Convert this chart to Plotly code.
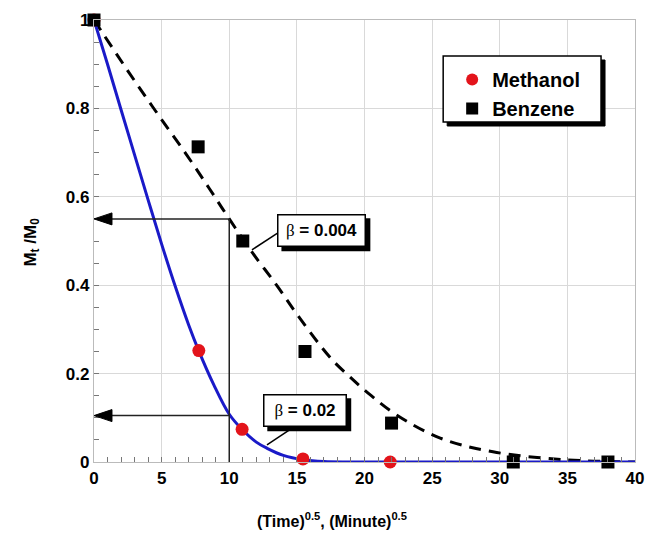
import plotly.graph_objects as go

# ---------------- data ----------------
methanol_x = [0.0, 7.75, 10.95, 15.45, 21.9]
methanol_y = [1.0, 0.252, 0.074, 0.007, 0.0]

benzene_x = [0.0, 7.7, 11.0, 15.6, 22.0, 31.0, 38.0]
benzene_y = [1.0, 0.713, 0.50, 0.25, 0.088, 0.0, 0.0]

fit_b002_x = [0.0, 1.0, 2.0, 3.0, 4.0, 5.0, 6.0, 7.0, 7.74, 8.85, 10.0, 10.94, 12.0, 12.8, 14.0, 15.5, 17.0, 19.0, 40.0]
fit_b002_y = [1.0, 0.9, 0.797, 0.695, 0.593, 0.493, 0.398, 0.31, 0.252, 0.175, 0.108, 0.074, 0.045, 0.031, 0.015, 0.005, 0.001, 0.0, 0.0]

fit_b0004_x = [0.0, 2.5, 4.67, 6.76, 8.5, 10.0, 11.56, 13.5, 15.2, 17.5, 18.94, 20.5, 22.4, 25.6, 29.5, 34.9, 40.0]
fit_b0004_y = [1.0, 0.885, 0.789, 0.699, 0.62, 0.55, 0.48, 0.40, 0.326, 0.235, 0.192, 0.15, 0.106, 0.054, 0.023, 0.005, 0.0]

arrow_levels = [0.55, 0.105]   # read-off levels on the y axis
arrow_from_x = 10.0            # time used for the read-off

x_ticks = [0, 5, 10, 15, 20, 25, 30, 35, 40]
y_ticks = [0, 0.2, 0.4, 0.6, 0.8, 1.0]
y_tick_text = ["0", "0.2", "0.4", "0.6", "0.8", "1"]

# ---------------- layout geometry (pixels) ----------------
W, H = 646, 534
L, R, T, B = 93.5, 635.0, 20.0, 462.0
X0, X1, Y0, Y1 = 0.0, 40.0, 0.0, 1.0
FONT = "Liberation Sans"


def px_to_paper_x(px):
    return (px - L) / (R - L)


def px_to_paper_y(py):
    return (B - py) / (B - T)


def dx_px(n):
    return n * (X1 - X0) / (R - L)


def dy_px(n):
    return n * (Y1 - Y0) / (B - T)


fig = go.Figure()

fig.add_trace(go.Scatter(x=fit_b0004_x, y=fit_b0004_y, mode="lines", line_shape="spline",
                         line=dict(color="black", width=3, dash="12px,8px"),
                         showlegend=False, hoverinfo="skip", cliponaxis=False))
fig.add_trace(go.Scatter(x=fit_b002_x, y=fit_b002_y, mode="lines", line_shape="spline",
                         line=dict(color="#1a1ac8", width=3),
                         showlegend=False, hoverinfo="skip", cliponaxis=False))
fig.add_trace(go.Scatter(x=methanol_x, y=methanol_y, mode="markers", name="Methanol",
                         marker=dict(symbol="circle", size=13, color="#e3141b"),
                         cliponaxis=False))
fig.add_trace(go.Scatter(x=benzene_x, y=benzene_y, mode="markers", name="Benzene",
                         marker=dict(symbol="square", size=13, color="black"),
                         cliponaxis=False))

shapes = []
# vertical read-off line
shapes.append(dict(type="line", xref="x", yref="y", x0=arrow_from_x, x1=arrow_from_x,
                   y0=0, y1=max(arrow_levels), line=dict(color="#222", width=1.5)))
head_len = dx_px(18)
head_half = dy_px(6)
for lv in arrow_levels:
    shapes.append(dict(type="line", xref="x", yref="y", x0=arrow_from_x, x1=head_len * 0.8,
                       y0=lv, y1=lv, line=dict(color="#222", width=1.5)))
    shapes.append(dict(type="path", xref="x", yref="y",
                       path=f"M {X0},{lv} L {head_len},{lv + head_half} L {head_len},{lv - head_half} Z",
                       fillcolor="black", line=dict(color="black", width=1)))

# leader lines for the beta labels
shapes.append(dict(type="line", xref="x", yref="y", x0=13.57, y0=0.518, x1=11.68, y1=0.48,
                   line=dict(color="black", width=1.5)))
shapes.append(dict(type="line", xref="x", yref="y", x0=14.76, y0=0.079, x1=12.79, y1=0.0385,
                   line=dict(color="black", width=1.5)))

# legend box with drop shadow
lx0, ly0, lx1, ly1 = 443, 56, 601, 122
sh = 4
shapes.append(dict(type="rect", xref="paper", yref="paper", layer="above",
                   x0=px_to_paper_x(lx0 + sh), x1=px_to_paper_x(lx1 + sh),
                   y0=px_to_paper_y(ly1 + sh), y1=px_to_paper_y(ly0 + sh),
                   fillcolor="black", line=dict(color="black", width=1)))
shapes.append(dict(type="rect", xref="paper", yref="paper", layer="above",
                   x0=px_to_paper_x(lx0), x1=px_to_paper_x(lx1),
                   y0=px_to_paper_y(ly1), y1=px_to_paper_y(ly0),
                   fillcolor="white", line=dict(color="black", width=1.5)))

annotations = []
# (value, centre x, centre y, inner width px, inner height px)
beta_labels = [("0.004", 16.85, 0.523, 74, 18), ("0.02", 15.62, 0.116, 69, 18)]
PAD, BW = 6, 1.5
for val, ax_, ay_, bw_, bh_ in beta_labels:
    txt = f"<span style='font-family:Liberation Serif'>β</span> <b>= {val}</b>"
    half_w = (bw_ + 2 * PAD + 2 * BW) / 2
    half_h = (bh_ + 2 * PAD + 2 * BW) / 2
    shapes.append(dict(type="rect", xref="x", yref="y", layer="above",
                       x0=ax_ + dx_px(-half_w + sh), x1=ax_ + dx_px(half_w + sh),
                       y0=ay_ - dy_px(half_h + sh), y1=ay_ + dy_px(half_h - sh),
                       fillcolor="black", line=dict(color="black", width=0)))
    annotations.append(dict(x=ax_, y=ay_, xref="x", yref="y", text=txt, showarrow=False,
                            width=bw_, height=bh_,
                            font=dict(family=FONT, size=17, color="black"),
                            bgcolor="white", bordercolor="black", borderwidth=BW, borderpad=PAD))

annotations.append(dict(x=px_to_paper_x(332), y=px_to_paper_y(532), xref="paper", yref="paper",
                        text="<b>(Time)<sup>0.5</sup>, (Minute)<sup>0.5</sup></b>", showarrow=False,
                        font=dict(family=FONT, size=16, color="black")))
annotations.append(dict(x=px_to_paper_x(18), y=px_to_paper_y(242), xref="paper", yref="paper",
                        text="<b>M<sub>t</sub> /M<sub>0</sub></b>", showarrow=False, textangle=-90,
                        font=dict(family=FONT, size=17, color="black")))

axis_common = dict(showgrid=True, gridcolor="#d9d9d9", gridwidth=1.2,
                   showline=True, linecolor="#bbbbbb", linewidth=1.2, mirror=True,
                   zeroline=False, ticks="inside", ticklen=5, tickcolor="#777",
                   automargin=False,
                   tickfont=dict(family=FONT, size=17, color="black", weight="bold"))

fig.update_layout(
    width=W, height=H,
    margin=dict(l=L, r=W - R, t=T, b=H - B, autoexpand=False),
    paper_bgcolor="white", plot_bgcolor="white",
    shapes=shapes, annotations=annotations,
    showlegend=True,
    legend=dict(x=px_to_paper_x(452), y=px_to_paper_y(60), xanchor="left", yanchor="top",
                bgcolor="rgba(0,0,0,0)", borderwidth=0,
                font=dict(family=FONT, size=20, color="black", weight="bold"),
                itemsizing="constant"),
    xaxis=dict(range=[X0, X1], tickvals=x_ticks, ticktext=[str(v) for v in x_ticks],
               minor=dict(dtick=1, ticks="inside", ticklen=5, tickcolor="#777", showgrid=False),
               **axis_common),
    yaxis=dict(range=[Y0, Y1], tickvals=y_ticks, ticktext=y_tick_text,
               minor=dict(dtick=0.05, ticks="inside", ticklen=5, tickcolor="#777", showgrid=False),
               **axis_common),
)

fig.write_html("out.html")
